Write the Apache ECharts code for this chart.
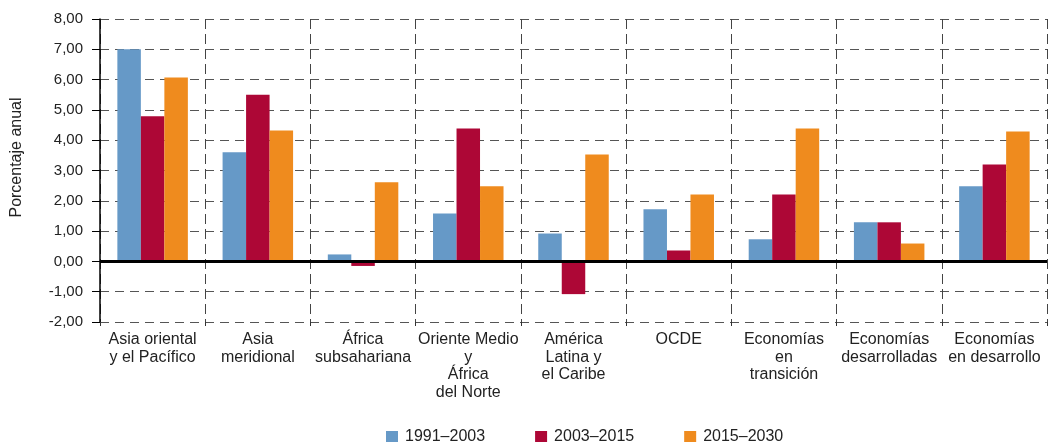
<!DOCTYPE html>
<html>
<head>
<meta charset="utf-8">
<script src="https://cdn.jsdelivr.net/npm/echarts@6/dist/echarts.min.js"></script>
<style>
  html, body { margin: 0; padding: 0; background: #fff; }
  #chart { width: 1048px; height: 442px; }
</style>
</head>
<body>
<div id="chart"></div>
<script>
// regiones
const categories = [
  'Asia oriental\ny el Pacífico',
  'Asia\nmeridional',
  'África\nsubsahariana',
  'Oriente Medio\ny\nÁfrica\ndel Norte',
  'América\nLatina y\nel Caribe',
  'OCDE',
  'Economías\nen\ntransición',
  'Economías\ndesarrolladas',
  'Economías\nen desarrollo'
];
const seriesNames = ['1991–2003', '2003–2015', '2015–2030'];
const v1991 = [7.00, 3.60, 0.23, 1.58, 0.92, 1.72, 0.73, 1.29, 2.48];
const v2003 = [4.79, 5.50, -0.15, 4.39, -1.08, 0.36, 2.21, 1.29, 3.20];
const v2015 = [6.07, 4.32, 2.61, 2.48, 3.53, 2.21, 4.39, 0.59, 4.29];
const colors = ['#6699C7', '#AD0736', '#EF8B1E'];

const chart = echarts.init(document.getElementById('chart'));

const fmt = v => v.toFixed(2).replace('.', ',');

chart.setOption({
  animation: false,
  color: colors,
  textStyle: { fontFamily: 'Liberation Sans, Arial, sans-serif' },
  grid: { left: 100, right: 1, top: 19, bottom: 120, containLabel: false },
  legend: {
    top: 429,
    left: 386,
    padding: 0,
    icon: 'rect',
    itemWidth: 12,
    itemHeight: 12,
    itemGap: 50,
    textStyle: { fontSize: 16, color: '#222', padding: [0, 0, 0, 2] },
    data: seriesNames
  },
  xAxis: {
    type: 'category',
    data: categories,
    boundaryGap: true,
    axisLine: { show: false, onZero: false },
    axisTick: { show: true, length: 4, lineStyle: { color: '#333' } },
    axisLabel: { interval: 0, fontSize: 16, color: '#222', lineHeight: 17.5, margin: 9 },
    splitLine: { show: true, lineStyle: { color: '#444', type: [10, 5], width: 1 } }
  },
  yAxis: {
    type: 'value',
    min: -2, max: 8, interval: 1,
    name: 'Porcentaje anual',
    nameLocation: 'middle',
    nameGap: 75,
    nameTextStyle: { fontSize: 16, color: '#222', padding: [0, 0, 0, 26] },
    axisLine: { show: true, lineStyle: { color: '#000', width: 1.5 } },
    axisTick: { show: true, length: 8, lineStyle: { color: '#000' } },
    axisLabel: { fontSize: 15, color: '#222', margin: 17, formatter: fmt },
    splitLine: { show: true, lineStyle: { color: '#555', type: [9, 6], width: 1.2 } }
  },
  series: [
    {
      name: seriesNames[0], type: 'bar', data: v1991,
      barGap: '0%', barCategoryGap: '33%',
      markLine: {
        silent: true, symbol: 'none', label: { show: false },
        lineStyle: { color: '#000', width: 3, type: 'solid' },
        data: [{ yAxis: 0 }]
      }
    },
    { name: seriesNames[1], type: 'bar', data: v2003, barGap: '0%', barCategoryGap: '33%' },
    { name: seriesNames[2], type: 'bar', data: v2015, barGap: '0%', barCategoryGap: '33%' }
  ]
});
</script>
</body>
</html>
